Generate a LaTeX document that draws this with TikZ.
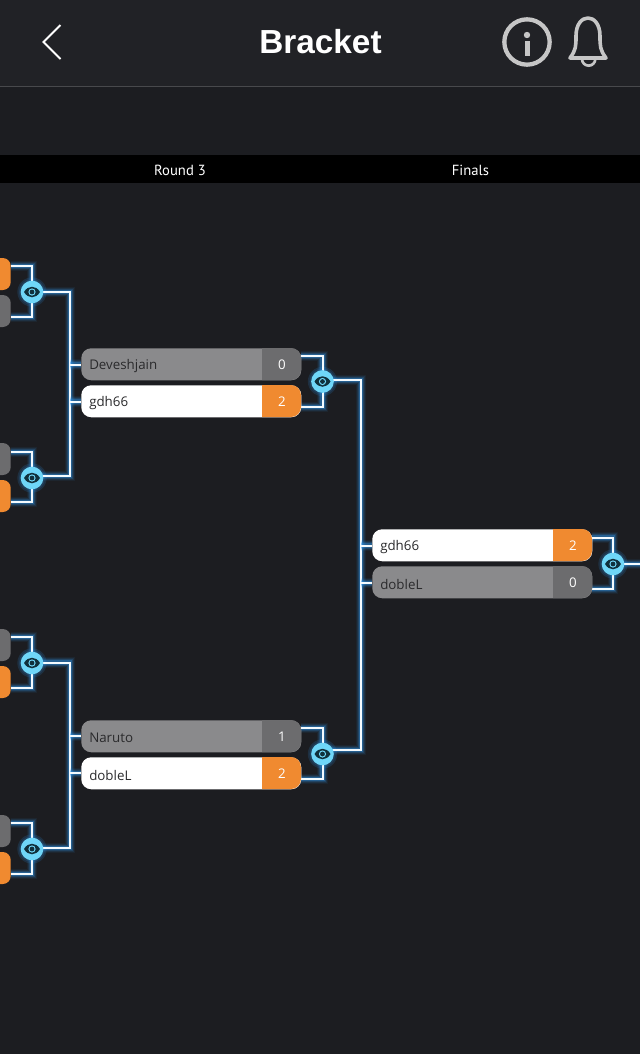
\documentclass[tikz,border=0pt]{standalone}
\usepackage{fontspec}
\setmainfont{Liberation Sans}
\newfontfamily\bandfont{PT Sans}
\newfontfamily\namefont{Open Sans}
\pgfdeclarelayer{base}
\pgfdeclarelayer{wires}
\pgfsetlayers{base,wires,main}
\definecolor{headbg}{HTML}{212226}
\definecolor{bodybg}{HTML}{1C1D21}
\definecolor{hline}{HTML}{48494C}
\definecolor{icon}{HTML}{C6C6C6}
\definecolor{losefill}{HTML}{8A8A8C}
\definecolor{losescore}{HTML}{6C6C6E}
\definecolor{wincol}{HTML}{F08A30}
\definecolor{eyecol}{HTML}{6FD6F8}
\definecolor{eyedark}{HTML}{10303C}
\definecolor{glowcol}{HTML}{2E93E6}
\definecolor{wirecol}{HTML}{F4FBFF}
\definecolor{nametext}{HTML}{2A2A2C}
\tikzset{
  x=.75pt,y=-.75pt,
  wire/.style={draw=wirecol,line width=1.5pt,
    preaction={draw=glowcol,line width=8pt,opacity=.07},
    preaction={draw=glowcol,line width=6.5pt,opacity=.12},
    preaction={draw=glowcol,line width=5pt,opacity=.2},
    preaction={draw=glowcol,line width=3.2pt,opacity=.35}},
  eyenode/.style={circle,fill=eyecol,minimum size=17pt,inner sep=0pt},
  eyehalo/.style={fill=glowcol,opacity=.16},
  stub/.style={fill=#1,rounded corners=6pt,minimum width=30pt,minimum height=24pt,inner sep=0pt,anchor=east},
  rowbox/.style={fill=#1,rounded corners=7.5pt,minimum width=165pt,minimum height=24pt,inner sep=0pt,anchor=north west},
  rowname/.style={font=\namefont\fontsize{10}{12}\selectfont,text=nametext,anchor=west,inner sep=0pt},
  rowscore/.style={font=\namefont\fontsize{10}{12}\selectfont,text=white,inner sep=0pt},
  iconline/.style={draw=icon,line width=2.7pt},
  bandlabel/.style={font=\bandfont\fontsize{11}{13}\selectfont,text=white,inner sep=0pt}
}
\newcommand{\matchrow}[7]{%
  \node[rowbox=#6] (#1) at (#2,#3) {};
  \begin{scope}
    \clip ({#2+181},#3) rectangle ({#2+220},{#3+32});
    \fill[#7,rounded corners=7.5pt] (#2,#3) rectangle ({#2+220},{#3+32});
  \end{scope}
  \node[rowname] (#1-name) at ({#2+8},{#3+18}) {#4};
  \node[rowscore] (#1-score) at ({#2+201},{#3+17}) {#5};
}
\newcommand{\eyemark}[2]{%
  \fill[eyedark] ({#1-8},#2) .. controls ({#1-4},{#2-7}) and ({#1+4},{#2-7}) .. ({#1+8},#2) .. controls ({#1+4},{#2+7}) and ({#1-4},{#2+7}) .. cycle;
  \fill[eyecol] (#1,#2) circle[radius=2.7pt];
  \fill[eyedark] (#1,#2) circle[radius=1.8pt];
}
\begin{document}
\begin{tikzpicture}
\useasboundingbox (0,0) rectangle (640,1054);
\clip (0,0) rectangle (640,1054);
\begin{pgfonlayer}{base}
  \fill[bodybg] (0,0) rectangle (640,1054);
  \fill[headbg] (0,0) rectangle (640,86);
  \fill[hline] (0,86) rectangle (640,87);
  \fill[black] (0,155) rectangle (640,183);
\end{pgfonlayer}
% header
\node[font=\bfseries\fontsize{25}{28}\selectfont,text=white,inner sep=0pt] (title) at (320.5,42) {Bracket};
\draw[white,line width=1.5pt] (60.5,25) -- (43.5,42) -- (60.5,59);
\node[circle,draw=icon,line width=3.2pt,minimum size=34pt,inner sep=0pt] (info) at (527,42) {};
\fill[icon] (527,35) circle[radius=2.4pt];
\fill[icon] (524.5,40.5) rectangle (529.5,56);
\draw[iconline,line join=round] (570,58) .. controls (576,50) and (576,46) .. (576,36) .. controls (576,12) and (600,12) .. (600,36) .. controls (600,46) and (600,50) .. (606,58) -- cycle;
\draw[icon,line width=2pt] (582,59) arc[start angle=180,end angle=360,radius=5pt];
\node[bandlabel] (round3) at (180,170) {Round 3};
\node[bandlabel] (finals) at (470.5,170) {Finals};
% stubs of the previous round
\node[stub=wincol] (a1) at (11,274) {};
\node[stub=losescore] (a2) at (11,311) {};
\node[stub=losescore] (b1) at (11,459) {};
\node[stub=wincol] (b2) at (11,496) {};
\node[stub=losescore] (c1) at (11,645) {};
\node[stub=wincol] (c2) at (11,682) {};
\node[stub=losescore] (d1) at (11,831) {};
\node[stub=wincol] (d2) at (11,868) {};
% rows
\matchrow{dev}{81}{348}{Deveshjain}{0}{losefill}{losescore}
\matchrow{gdhA}{81}{385}{gdh66}{2}{white}{wincol}
\matchrow{nar}{81}{720}{Naruto}{1}{losefill}{losescore}
\matchrow{dobA}{81}{757}{dobleL}{2}{white}{wincol}
\matchrow{gdhB}{372}{529}{gdh66}{2}{white}{wincol}
\matchrow{dobB}{372}{566}{dobleL}{0}{losefill}{losescore}
% eye buttons
\node[eyenode] (ea) at (32,292) {}; \eyemark{32}{292}
\node[eyenode] (eb) at (32,478) {}; \eyemark{32}{478}
\node[eyenode] (ec) at (32,663) {}; \eyemark{32}{663}
\node[eyenode] (ed) at (32,849) {}; \eyemark{32}{849}
\node[eyenode] (ef) at (322.5,381.5) {}; \eyemark{322.5}{381.5}
\node[eyenode] (eg) at (322.5,754) {}; \eyemark{322.5}{754}
\node[eyenode] (eh) at (613,564) {}; \eyemark{613}{564}
% connector ends
\coordinate (a1p) at (11,266); \coordinate (a2p) at (11,317);
\coordinate (b1p) at (11,452); \coordinate (b2p) at (11,502);
\coordinate (c1p) at (11,637); \coordinate (c2p) at (11,688);
\coordinate (d1p) at (11,823); \coordinate (d2p) at (11,874);
\coordinate (devp) at (301,356); \coordinate (gdhAp) at (301,407);
\coordinate (narp) at (301,728); \coordinate (dobAp) at (301,779);
\coordinate (gdhBp) at (592,537.5); \coordinate (dobBp) at (592,589);
\coordinate (devin) at (81,364.5); \coordinate (gdhAin) at (81,401.5);
\coordinate (narin) at (81,736); \coordinate (dobAin) at (81,773);
\coordinate (gdhBin) at (372,545.5); \coordinate (dobBin) at (372,583);
\coordinate (vup) at (70,292); \coordinate (vdown) at (70,476);
\coordinate (vup2) at (70,662.5); \coordinate (vdown2) at (70,848);
\coordinate (vup3) at (361,380); \coordinate (vdown3) at (361,750);
\coordinate (eaout) at (32,292); \coordinate (ebout) at (32,476);
\coordinate (ecout) at (32,662.5); \coordinate (edout) at (32,848);
\coordinate (efout) at (322.5,380); \coordinate (egout) at (322.5,750);
\coordinate (ehout) at (613,564); \coordinate (exit) at (640,564);
\begin{pgfonlayer}{wires}
  \foreach \e in {ea,eb,ec,ed,ef,eg,eh}{
    \fill[eyehalo] (\e.center) circle[radius=11pt];
    \fill[eyehalo] (\e.center) circle[radius=9.8pt];
  }
  \path[wire] (a1p) -| (ea.center);
  \path[wire] (a2p) -| (ea.center);
  \path[wire] (b1p) -| (eb.center);
  \path[wire] (b2p) -| (eb.center);
  \path[wire] (c1p) -| (ec.center);
  \path[wire] (c2p) -| (ec.center);
  \path[wire] (d1p) -| (ed.center);
  \path[wire] (d2p) -| (ed.center);
  \path[wire] (devp) -| (ef.center);
  \path[wire] (gdhAp) -| (ef.center);
  \path[wire] (narp) -| (eg.center);
  \path[wire] (dobAp) -| (eg.center);
  \path[wire] (gdhBp) -| (eh.center);
  \path[wire] (dobBp) -| (eh.center);
  \path[wire,line join=miter] (eaout) -- (vup) -- (vdown) -- (ebout);
  \path[wire,line join=miter] (ecout) -- (vup2) -- (vdown2) -- (edout);
  \path[wire,line join=miter] (efout) -- (vup3) -- (vdown3) -- (egout);
  \path[wire] (devin -| vup) -- (devin);
  \path[wire] (gdhAin -| vup) -- (gdhAin);
  \path[wire] (narin -| vup) -- (narin);
  \path[wire] (dobAin -| vup) -- (dobAin);
  \path[wire] (gdhBin -| vup3) -- (gdhBin);
  \path[wire] (dobBin -| vup3) -- (dobBin);
  \path[wire] (ehout) -- (exit);
\end{pgfonlayer}
\end{tikzpicture}
\end{document}
